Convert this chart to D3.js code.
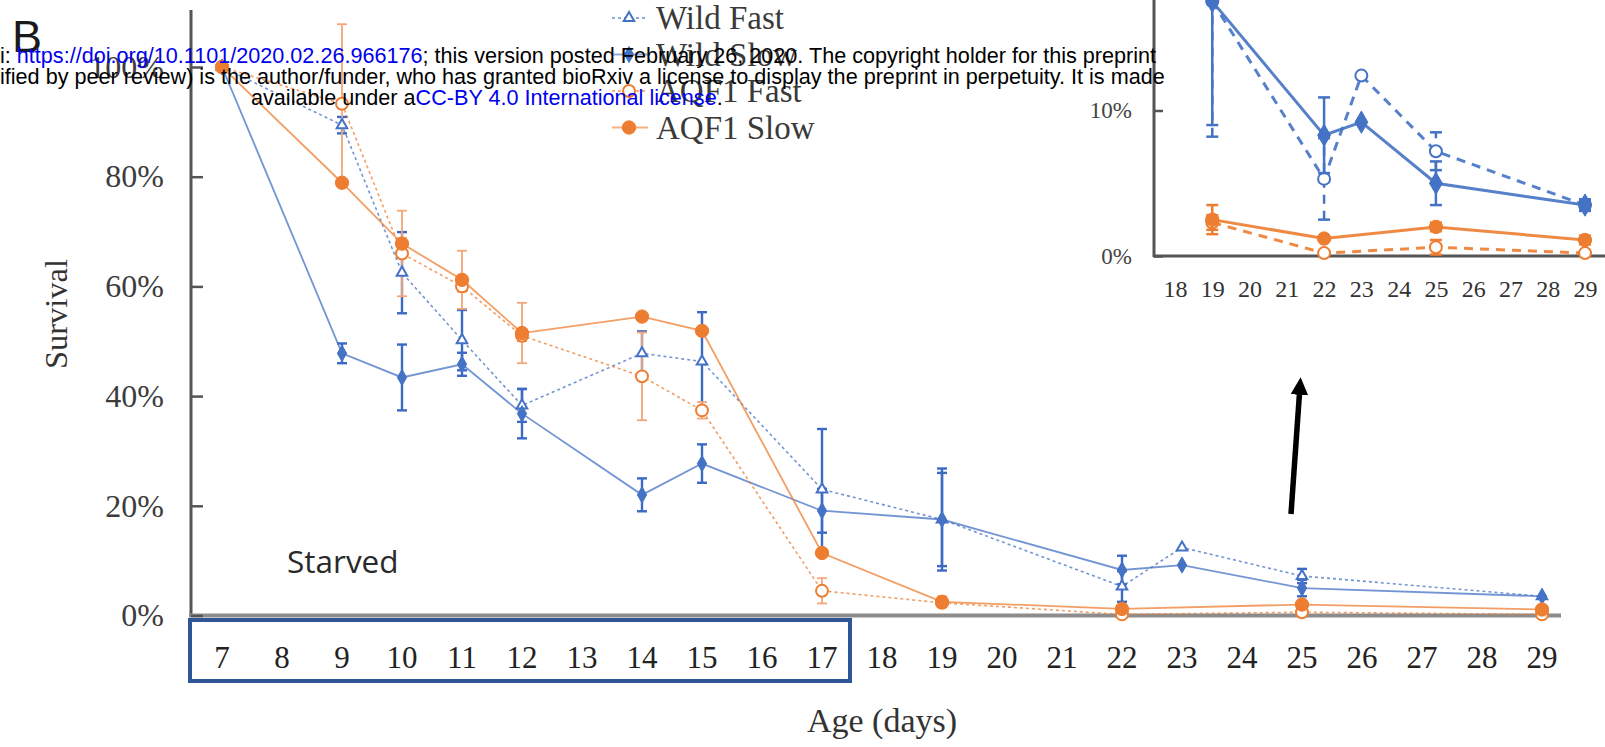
<!DOCTYPE html>
<html>
<head>
<meta charset="utf-8">
<script src="https://cdn.jsdelivr.net/npm/d3@7"></script>
<style>
  html, body { margin: 0; padding: 0; background: #fff; }
  svg { display: block; }
</style>
</head>
<body>
<svg id="chart" width="1605" height="747"></svg>
<script>
// ---------- data ----------
const days = ["7","8","9","10","11","12","13","14","15","16","17","18","19","20","21","22","23","24","25","26","27","28","29"];
const measuredDays = ["7","9","10","11","12","14","15","17","19","22","23","25","29"];
const wildFast     = [100, 89.4, 62.5, 50.2, 38.3, 47.8, 46.3, 23.0, 17.5, 5.3, 12.4, 7.2, 3.5];
const wildFastErr  = [0,   1.5,  7.4,  5.5,  3.0,  4.0,  9.0,  11.0, 9.3,  2.8, 0,    1.3, 0.3];
const wildSlow     = [100, 47.8, 43.4, 45.8, 36.8, 22.0, 27.7, 19.1, 17.5, 8.3, 9.2,  5.0, 3.5];
const wildSlowErr  = [0,   1.8,  6.0,  2.1,  4.5,  3.0,  3.5,  4.0,  8.5,  2.6, 0,    1.5, 0.4];
const aqf1Fast     = [100, 93.3, 66.0, 60.0, 51.0, 43.6, 37.4, 4.5,  2.3,  0.2, null, 0.6, 0.2];
const aqf1FastErr  = [0,   14.5, 7.8,  1.0,  1.0,  8.0,  1.5,  2.3,  0.5,  0.2, null, 0.5, 0.2];
const aqf1Slow     = [100, 78.9, 67.8, 61.2, 51.5, 54.5, 51.9, 11.4, 2.5,  1.2, null, 2.0, 1.1];
const aqf1SlowErr  = [0,   0,    1.0,  5.3,  5.5,  0.5,  0.5,  0.5,  1.0,  0.2, null, 0.3, 0.3];
const yTicks = [0, 20, 40, 60, 80, 100];
const insetDays = ["18","19","20","21","22","23","24","25","26","27","28","29"];
const insetTicks = [0, 10];
const seriesNames = ["Wild Fast", "Wild Slow", "AQF1 Fast", "AQF1 Slow"];

// ---------- styles ----------
const BLUE = "#4472C4", ORANGE = "#ED7D31";
const SERIF = "'Liberation Serif','Times New Roman',serif";
const series = [
  {name: seriesNames[0], vals: wildFast, err: wildFastErr, color: BLUE,   dash: "3,3", shape: "triangle", filled: false},
  {name: seriesNames[1], vals: wildSlow, err: wildSlowErr, color: BLUE,   dash: null,  shape: "diamond",  filled: true},
  {name: seriesNames[2], vals: aqf1Fast, err: aqf1FastErr, color: ORANGE, dash: "3,3", shape: "circle",   filled: false},
  {name: seriesNames[3], vals: aqf1Slow, err: aqf1SlowErr, color: ORANGE, dash: null,  shape: "circle",   filled: true}
];

const svg = d3.select("#chart");

// ---------- scales ----------
const x = d3.scaleBand().domain(days).range([192, 1572]).padding(0);
const xc = d => x(d) + x.bandwidth() / 2;
const y = d3.scaleLinear().domain([0, 100]).range([615.5, 67]);

// ---------- main axes ----------
const gAxes = svg.append("g");
gAxes.append("line").attr("x1", 191).attr("x2", 191).attr("y1", 10).attr("y2", 617)
  .attr("stroke", "#555").attr("stroke-width", 3);
gAxes.append("line").attr("x1", 189).attr("x2", 1561).attr("y1", y(0)).attr("y2", y(0))
  .attr("stroke", "#8c8c8c").attr("stroke-width", 4);

const yAxis = d3.axisLeft(y).tickValues(yTicks).tickFormat(d => d + "%").tickSize(-12).tickPadding(27);
const gy = svg.append("g").attr("transform", "translate(191,0)").call(yAxis);
gy.select(".domain").remove();
gy.selectAll(".tick line").attr("stroke", "#555").attr("stroke-width", 2.5);
gy.selectAll(".tick text").attr("font-family", SERIF).attr("font-size", 32).attr("fill", "#3c3c3c");

const xAxis = d3.axisBottom(x).tickSize(0).tickPadding(30);
const gx = svg.append("g").attr("transform", `translate(0,${y(0)})`).call(xAxis);
gx.select(".domain").remove();
gx.selectAll(".tick text").attr("font-family", SERIF).attr("font-size", 31).attr("fill", "#222");

// box around starved days 7..17
svg.append("rect")
  .attr("x", x("7") - 2).attr("y", 620)
  .attr("width", x("17") + x.bandwidth() - x("7")).attr("height", 61)
  .attr("fill", "none").attr("stroke", "#2E5596").attr("stroke-width", 4);

svg.append("text").attr("x", 882).attr("y", 732)
  .attr("text-anchor", "middle").attr("font-family", SERIF).attr("font-size", 34).attr("fill", "#333")
  .text("Age (days)");

svg.append("text").attr("transform", "translate(67,314) rotate(-90)")
  .attr("text-anchor", "middle").attr("font-family", SERIF).attr("font-size", 32.5).attr("fill", "#333")
  .text("Survival");

svg.append("text").attr("x", 287).attr("y", 573)
  .attr("font-family", "'Open Sans',sans-serif").attr("font-size", 31.5).attr("fill", "#2a2a2a")
  .text("Starved");

// ---------- marker helper ----------
function drawMarker(g, shape, filled, color, cx, cy, scale) {
  let size;
  let type;
  if (shape === "diamond") { type = d3.symbolDiamond; size = 75 * scale; }
  else if (shape === "triangle") { type = d3.symbolTriangle; size = 60 * scale; }
  else { type = d3.symbolCircle; size = 140 * scale; }
  g.append("path")
    .attr("d", d3.symbol().type(type).size(filled ? size : size * 0.8)())
    .attr("transform", `translate(${cx},${cy})`)
    .attr("fill", filled ? color : "#fff")
    .attr("stroke", color)
    .attr("stroke-width", filled ? 1 : 2);
}

// ---------- main series ----------
const gMain = svg.append("g");
series.forEach(s => {
  const pts = measuredDays.map((d, i) => ({d, v: s.vals[i], e: s.err[i]})).filter(p => p.v !== null);
  const line = d3.line().x(p => xc(p.d)).y(p => y(p.v));
  gMain.append("path").datum(pts).attr("d", line)
    .attr("fill", "none").attr("stroke", s.color).attr("stroke-opacity", 0.75)
    .attr("stroke-width", s.dash ? 1.6 : 1.8)
    .attr("stroke-dasharray", s.dash);
});
series.forEach(s => {
  const pts = measuredDays.map((d, i) => ({d, v: s.vals[i], e: s.err[i]})).filter(p => p.v !== null && p.e > 0.6);
  const isBlue = s.color === BLUE;
  const col = isBlue ? "#3b69c4" : "#F2A679";
  const w = isBlue ? 2.4 : 1.8;
  pts.forEach(p => {
    const cx = xc(p.d);
    gMain.append("line").attr("x1", cx).attr("x2", cx).attr("y1", y(p.v - p.e)).attr("y2", y(p.v + p.e))
      .attr("stroke", col).attr("stroke-width", w);
    [p.v - p.e, p.v + p.e].forEach(v => {
      gMain.append("line").attr("x1", cx - 5).attr("x2", cx + 5).attr("y1", y(v)).attr("y2", y(v))
        .attr("stroke", col).attr("stroke-width", w);
    });
  });
});
series.forEach(s => {
  measuredDays.forEach((d, i) => {
    if (s.vals[i] === null) return;
    drawMarker(gMain, s.shape, s.filled, s.color, xc(d), y(s.vals[i]), 1);
  });
});

// ---------- legend ----------
const gLeg = svg.append("g");
series.forEach((s, i) => {
  const ly = 18 + i * 36.5;
  gLeg.append("line").attr("x1", 612).attr("x2", 648).attr("y1", ly).attr("y2", ly)
    .attr("stroke", s.color).attr("stroke-opacity", 0.6).attr("stroke-width", 2)
    .attr("stroke-dasharray", s.dash);
  drawMarker(gLeg, s.shape, s.filled, s.color, 629, ly, 1);
  gLeg.append("text").attr("x", 656).attr("y", ly + 11)
    .attr("font-family", SERIF).attr("font-size", 33).attr("fill", "#3a3a3a")
    .text(s.name);
});

// ---------- arrow ----------
svg.append("defs").append("marker").attr("id", "ah")
  .attr("viewBox", "0 0 10 10").attr("refX", 5).attr("refY", 5)
  .attr("markerWidth", 3.2).attr("markerHeight", 3.2).attr("orient", "auto")
  .append("path").attr("d", "M0,0 L10,5 L0,10 z").attr("fill", "#000");
svg.append("line").attr("x1", 1291).attr("y1", 514).attr("x2", 1300).attr("y2", 386)
  .attr("stroke", "#000").attr("stroke-width", 5.5).attr("marker-end", "url(#ah)");

// ---------- inset ----------
const ix = d3.scalePoint().domain(insetDays).range([1175, 1585]);
const iy = d3.scaleLinear().domain([0, 10]).range([256, 110.5]);
const gIn = svg.append("g");
gIn.append("line").attr("x1", 1154).attr("x2", 1154).attr("y1", 0).attr("y2", 257)
  .attr("stroke", "#555").attr("stroke-width", 3);
gIn.append("line").attr("x1", 1153).attr("x2", 1605).attr("y1", 256).attr("y2", 256)
  .attr("stroke", "#555").attr("stroke-width", 3);
const iyAxis = d3.axisLeft(iy).tickValues(insetTicks).tickFormat(d => d + "%").tickSize(-9).tickPadding(22);
const giy = gIn.append("g").attr("transform", "translate(1154,0)").call(iyAxis);
giy.select(".domain").remove();
giy.selectAll(".tick line").attr("stroke", "#555").attr("stroke-width", 2.5);
giy.selectAll(".tick text").attr("font-family", SERIF).attr("font-size", 23).attr("fill", "#444");
const ixAxis = d3.axisBottom(ix).tickSize(0).tickPadding(24);
const gix = gIn.append("g").attr("transform", "translate(0,256)").call(ixAxis);
gix.select(".domain").remove();
gix.selectAll(".tick text").attr("font-family", SERIF).attr("font-size", 24).attr("fill", "#333");

const insetSeries = [series[2], series[3], series[0], series[1]];
insetSeries.forEach(s => {
  const pts = measuredDays.map((d, i) => ({d, v: s.vals[i], e: s.err[i]}))
    .filter(p => p.v !== null && insetDays.includes(p.d));
  const line = d3.line().x(p => ix(p.d)).y(p => iy(p.v));
  gIn.append("path").datum(pts).attr("d", line)
    .attr("fill", "none").attr("stroke", s.color).attr("stroke-opacity", 0.9)
    .attr("stroke-width", 3).attr("stroke-dasharray", s.dash ? "9,7" : null);
  pts.filter(p => p.e > 0.25).forEach(p => {
    const cx = ix(p.d);
    gIn.append("line").attr("x1", cx).attr("x2", cx).attr("y1", iy(p.v - p.e)).attr("y2", iy(p.v + p.e))
      .attr("stroke", s.color).attr("stroke-width", 2.5).attr("stroke-dasharray", s.dash ? "9,7" : null);
    [p.v - p.e, p.v + p.e].forEach(v => {
      gIn.append("line").attr("x1", cx - 6).attr("x2", cx + 6).attr("y1", iy(v)).attr("y2", iy(v))
        .attr("stroke", s.color).attr("stroke-width", 2.5);
    });
  });
  pts.forEach(p => {
    const shape = s.shape === "triangle" ? "circle" : s.shape;
    drawMarker(gIn, shape, s.filled, s.color, ix(p.d), iy(p.v), shape === "diamond" ? 1.9 : 1.0);
  });
});

// ---------- panel letter ----------
svg.append("text").attr("x", 12).attr("y", 52)
  .attr("font-family", "'Liberation Sans',Arial,sans-serif").attr("font-size", 45).attr("fill", "#1a1a1a")
  .text("B");

// ---------- bioRxiv watermark ----------
const wm = svg.append("g").attr("font-family", "'Liberation Sans',Arial,sans-serif").attr("font-size", 20.5);
const l1 = wm.append("text").attr("x", 0).attr("y", 63).attr("fill", "#000");
l1.append("tspan").text("i: ");
l1.append("tspan").attr("fill", "#0000ee").text("https://doi.org/10.1101/2020.02.26.966176");
l1.append("tspan").text("; this version posted February 26, 2020. The copyright holder for this preprint");
const l2 = wm.append("text").attr("x", 0).attr("y", 84).attr("fill", "#000")
  .text("ified by peer review) is the author/funder, who has granted bioRxiv a license to display the preprint in perpetuity. It is made");
const l3 = wm.append("text").attr("x", 251).attr("y", 105).attr("fill", "#000");
l3.append("tspan").text("available under a");
l3.append("tspan").attr("fill", "#0000ee").text("CC-BY 4.0 International license");
l3.append("tspan").text(".");
const w1 = l1.node().getComputedTextLength();
const fs = 20.5 * 1157 / w1;
wm.attr("font-size", fs);
</script>
</body>
</html>
